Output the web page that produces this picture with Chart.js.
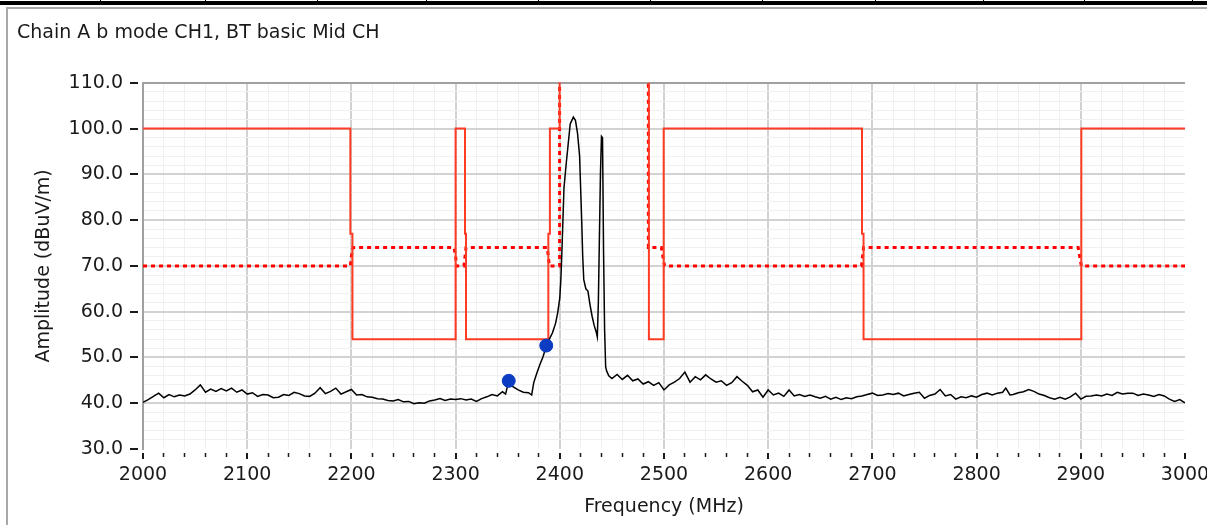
<!DOCTYPE html>
<html>
<head>
<meta charset="utf-8">
<title>Chain A b mode CH1, BT basic Mid CH</title>
<script src="https://cdn.jsdelivr.net/npm/chart.js@4/dist/chart.umd.min.js"></script>
<style>
  html, body { margin: 0; padding: 0; background: #fff; }
  #wrap { position: relative; width: 1207px; height: 525px; overflow: hidden; }
  #topbar { position: absolute; left: 0; top: 1px; width: 1207px; height: 4px; background: #000; }
  .cell { position: absolute; top: 0; width: 1px; height: 2px; background: #000; }
  #panelTop { position: absolute; left: 6px; top: 7px; right: 0; height: 2px; background: #a8a8a8; }
  #panelLeft { position: absolute; left: 6px; top: 7px; width: 2px; bottom: 0; background: #a8a8a8; }
  #chart { position: absolute; left: 0; top: 0; }
</style>
</head>
<body>
<div id="wrap">
  <div id="topbar"></div>
  <div id="panelTop"></div>
  <div id="panelLeft"></div>
  <canvas id="chart" width="1207" height="525"></canvas>
</div>
<script>
// measured trace (MHz / dBuV/m)
const traceMHz = [
  2000, 2005, 2010, 2015, 2020, 2025, 2030, 2035, 2040, 2045,
  2050, 2055, 2060, 2065, 2070, 2075, 2080, 2085, 2090, 2095,
  2100, 2105, 2110, 2115, 2120, 2125, 2130, 2135, 2140, 2145,
  2150, 2155, 2160, 2165, 2170, 2175, 2180, 2185, 2190, 2195,
  2200, 2205, 2210, 2215, 2220, 2225, 2230, 2235, 2240, 2245,
  2250, 2255, 2260, 2265, 2270, 2275, 2280, 2285, 2290, 2295,
  2300, 2305, 2310, 2315, 2320, 2325, 2330, 2335, 2340, 2345,
  2348, 2351, 2355, 2360, 2365, 2370, 2373, 2375, 2378, 2381,
  2384, 2387, 2390, 2393, 2396, 2398, 2400, 2401, 2402, 2403,
  2404, 2406, 2408, 2410, 2413, 2415, 2417, 2419, 2420, 2421,
  2422, 2423, 2425, 2427, 2429, 2431, 2433, 2435, 2436, 2437,
  2438, 2439, 2440, 2441, 2442, 2443, 2444, 2445, 2447, 2450,
  2455, 2460, 2465, 2470, 2475, 2480, 2485, 2490, 2495, 2500,
  2505, 2510, 2515, 2520, 2525, 2530, 2535, 2540, 2545, 2550,
  2555, 2560, 2565, 2570, 2575, 2580, 2585, 2590, 2595, 2600,
  2605, 2610, 2615, 2620, 2625, 2630, 2635, 2640, 2645, 2650,
  2655, 2660, 2665, 2670, 2675, 2680, 2685, 2690, 2695, 2700,
  2705, 2710, 2715, 2720, 2725, 2730, 2735, 2740, 2745, 2750,
  2755, 2760, 2765, 2770, 2775, 2780, 2785, 2790, 2795, 2800,
  2805, 2810, 2815, 2820, 2825, 2828, 2832, 2835, 2840, 2845,
  2850, 2855, 2860, 2865, 2870, 2875, 2880, 2885, 2890, 2895,
  2900, 2905, 2910, 2915, 2920, 2925, 2930, 2935, 2940, 2945,
  2950, 2955, 2960, 2965, 2970, 2975, 2980, 2985, 2990, 2995,
  3000
];
const traceDb = [
  40.2, 40.8, 41.5, 42.2, 41.2, 41.9, 41.4, 41.8, 41.6, 42.0,
  42.9, 44.0, 42.4, 43.1, 42.6, 43.2, 42.7, 43.3, 42.4, 42.9,
  42.0, 42.3, 41.5, 41.9, 41.8, 41.2, 41.3, 41.9, 41.7, 42.4,
  42.1, 41.6, 41.5, 42.2, 43.4, 42.1, 42.6, 43.3, 42.0, 42.5,
  43.0, 41.8, 41.9, 41.4, 41.3, 41.0, 40.9, 40.6, 40.5, 40.8,
  40.3, 40.4, 39.9, 40.1, 40.0, 40.5, 40.7, 41.0, 40.6, 40.9,
  40.8, 41.0, 40.7, 40.9, 40.4, 41.0, 41.4, 41.9, 41.6, 42.5,
  42.0, 44.9, 43.6, 42.9, 42.4, 42.3, 41.8, 44.5, 46.6, 48.5,
  50.2, 52.5, 54.0, 55.4, 57.5, 59.8, 63.0, 67.0, 73.0, 80.0,
  87.0, 92.0, 96.5, 101.0, 102.5, 101.8, 99.0, 94.0, 87.0, 80.0,
  72.0, 67.0, 65.0, 64.5, 61.5, 59.0, 57.0, 55.5, 54.5, 62.0,
  76.0, 90.0, 98.3, 98.0, 73.0, 56.0, 48.0, 47.0, 46.0, 45.4,
  46.3, 45.2, 46.1, 44.9, 45.3, 44.2, 44.7, 43.9, 44.5, 42.9,
  44.0, 44.6, 45.4, 46.8, 44.6, 45.8, 45.1, 46.2, 45.3, 44.6,
  44.9, 43.9, 44.5, 45.8, 44.8, 43.9, 42.5, 42.9, 41.3, 42.9,
  41.8, 42.2, 41.5, 42.9, 41.6, 41.9, 41.5, 41.8, 41.4, 41.1,
  41.5, 40.9, 41.3, 40.8, 41.2, 41.0, 41.4, 41.6, 41.9, 42.2,
  41.7, 41.8, 42.1, 41.9, 42.2, 41.6, 41.9, 42.2, 42.4, 41.1,
  41.7, 42.0, 43.0, 41.6, 41.9, 40.9, 41.4, 41.2, 41.6, 41.3,
  41.9, 42.2, 41.8, 42.2, 42.4, 43.3, 41.8, 41.9, 42.3, 42.5,
  43.0, 42.6, 42.0, 41.7, 41.2, 40.9, 41.3, 40.9, 41.4, 42.2,
  40.9, 41.5, 41.6, 41.8, 41.6, 42.0, 41.7, 42.4, 42.0, 42.2,
  42.2, 41.7, 42.0, 41.8, 41.5, 41.9, 41.6, 40.9, 40.4, 40.8,
  40.1
];

// peak limit (solid) and average limit (dotted); 150 = off the top of the plot
const peakLimitMHz = [2000, 2199, 2199, 2201, 2201, 2300, 2300, 2309, 2309, 2310, 2310, 2389, 2389, 2390.5, 2390.5, 2399.8, 2399.8, 2485.5, 2485.5, 2499.7, 2499.7, 2690, 2690, 2691.5, 2691.5, 2900.5, 2900.5, 3000];
const peakLimitDb  = [100, 100, 77, 77, 54, 54, 100, 100, 77, 77, 54, 54, 77, 77, 100, 100, 150, 150, 54, 54, 100, 100, 77, 77, 54, 54, 100, 100];
const avgLimitMHz = [2000, 2199, 2200, 2201.5, 2298.5, 2300, 2301, 2308, 2309, 2310, 2388, 2389, 2390, 2399.8, 2399.8, 2485, 2485, 2497.5, 2499, 2500.5, 2689.5, 2690.5, 2691.5, 2897.5, 2899, 2900.5, 3000];
const avgLimitDb  = [70, 70, 72, 74, 74, 72, 70, 70, 72, 74, 74, 72, 70, 70, 150, 150, 74, 74, 72, 70, 70, 72, 74, 74, 72, 70, 70];

const markerMHz = [2351, 2387];
const markerDb = [44.9, 52.6];

const cellEdges = [100, 205, 317, 426, 538, 650, 762, 875, 983, 1084, 1192];

const wrap = document.getElementById("wrap");
cellEdges.forEach(x => {
  const d = document.createElement("div");
  d.className = "cell";
  d.style.left = x + "px";
  wrap.appendChild(d);
});

const toPoints = (xs, ys) => xs.map((x, i) => ({ x, y: ys[i] }));
const isMult = (v, m) => Math.abs(v / m - Math.round(v / m)) < 1e-6;

Chart.defaults.font.family = "'DejaVu Sans', Verdana, sans-serif";
Chart.defaults.color = "#1a1a1a";

new Chart(document.getElementById("chart"), {
  type: "scatter",
  data: {
    datasets: [
      {
        label: "Markers",
        data: toPoints(markerMHz, markerDb),
        showLine: false,
        pointRadius: 6.5,
        pointHoverRadius: 6.5,
        backgroundColor: "#0b3cc2",
        borderColor: "#0b3cc2",
        order: 0
      },
      {
        label: "Trace",
        data: toPoints(traceMHz, traceDb),
        showLine: true,
        borderColor: "#000",
        borderWidth: 1.5,
        pointRadius: 0,
        tension: 0,
        order: 1
      },
      {
        label: "Peak limit",
        data: toPoints(peakLimitMHz, peakLimitDb),
        showLine: true,
        borderColor: "#ff3b24",
        borderWidth: 2,
        pointRadius: 0,
        tension: 0,
        order: 2
      },
      {
        label: "Average limit",
        data: toPoints(avgLimitMHz, avgLimitDb),
        showLine: true,
        borderColor: "#ff0000",
        borderWidth: 3,
        borderDash: [4, 4],
        pointRadius: 0,
        tension: 0,
        order: 3
      }
    ]
  },
  options: {
    responsive: false,
    animation: false,
    devicePixelRatio: 1,
    layout: { padding: { left: 17, right: 0, top: 0, bottom: 0 } },
    plugins: {
      legend: { display: false },
      tooltip: { enabled: false },
      title: {
        display: true,
        text: "Chain A b mode CH1, BT basic Mid CH",
        align: "start",
        color: "#1a1a1a",
        font: { size: 19, weight: "normal" },
        padding: { top: 22, bottom: 38 }
      }
    },
    scales: {
      x: {
        type: "linear",
        min: 2000,
        max: 3000,
        afterFit: scale => { scale.height = 76; scale.paddingRight = 22; },
        border: { display: false },
        grid: {
          color: ctx => {
            const v = ctx.tick.value;
            if (v === 2000 || v === 3000) return "rgba(0,0,0,0)";
            return isMult(v, 100) ? "#d2d2d2" : "#f0f0f0";
          },
          lineWidth: ctx => isMult(ctx.tick.value, 100) ? 2 : 1,
          tickLength: 10,
          tickColor: "#1a1a1a",
          tickWidth: ctx => isMult(ctx.tick.value, 100) ? 2 : 1.5,
          tickBorderDash: ctx => isMult(ctx.tick.value, 100) ? [6, 10] : [4, 10],
          tickBorderDashOffset: ctx => isMult(ctx.tick.value, 100) ? 12 : 10
        },
        ticks: {
          stepSize: 20,
          autoSkip: false,
          maxRotation: 0,
          padding: 5,
          font: { size: 19 },
          color: "#1a1a1a",
          callback: v => isMult(v, 100) ? String(v) : ""
        },
        title: {
          display: true,
          text: "Frequency (MHz)",
          color: "#1a1a1a",
          font: { size: 19 },
          padding: { top: 0, bottom: 7 }
        }
      },
      y: {
        type: "linear",
        min: 30,
        max: 110,
        afterFit: scale => { scale.width = 126; },
        border: { display: true, color: "#a0a0a0", width: 2 },
        grid: {
          color: ctx => {
            const v = ctx.tick.value;
            if (v === 110) return "#a0a0a0";
            if (v === 30) return "rgba(0,0,0,0)";
            return isMult(v, 10) ? "#d2d2d2" : "#f0f0f0";
          },
          lineWidth: ctx => isMult(ctx.tick.value, 10) ? 2 : 1,
          tickLength: 13,
          tickColor: ctx => isMult(ctx.tick.value, 10) ? "#1a1a1a" : "rgba(0,0,0,0)",
          tickWidth: 2,
          tickBorderDash: [8, 20],
          tickBorderDashOffset: 0
        },
        ticks: {
          stepSize: 2,
          autoSkip: false,
          padding: 7,
          font: { size: 19 },
          color: "#1a1a1a",
          callback: v => isMult(v, 10) ? v.toFixed(1) : ""
        },
        title: {
          display: true,
          text: "Amplitude (dBuV/m)",
          color: "#1a1a1a",
          font: { size: 19 },
          padding: { top: 16, bottom: 0 }
        }
      }
    }
  }
});
</script>
</body>
</html>
